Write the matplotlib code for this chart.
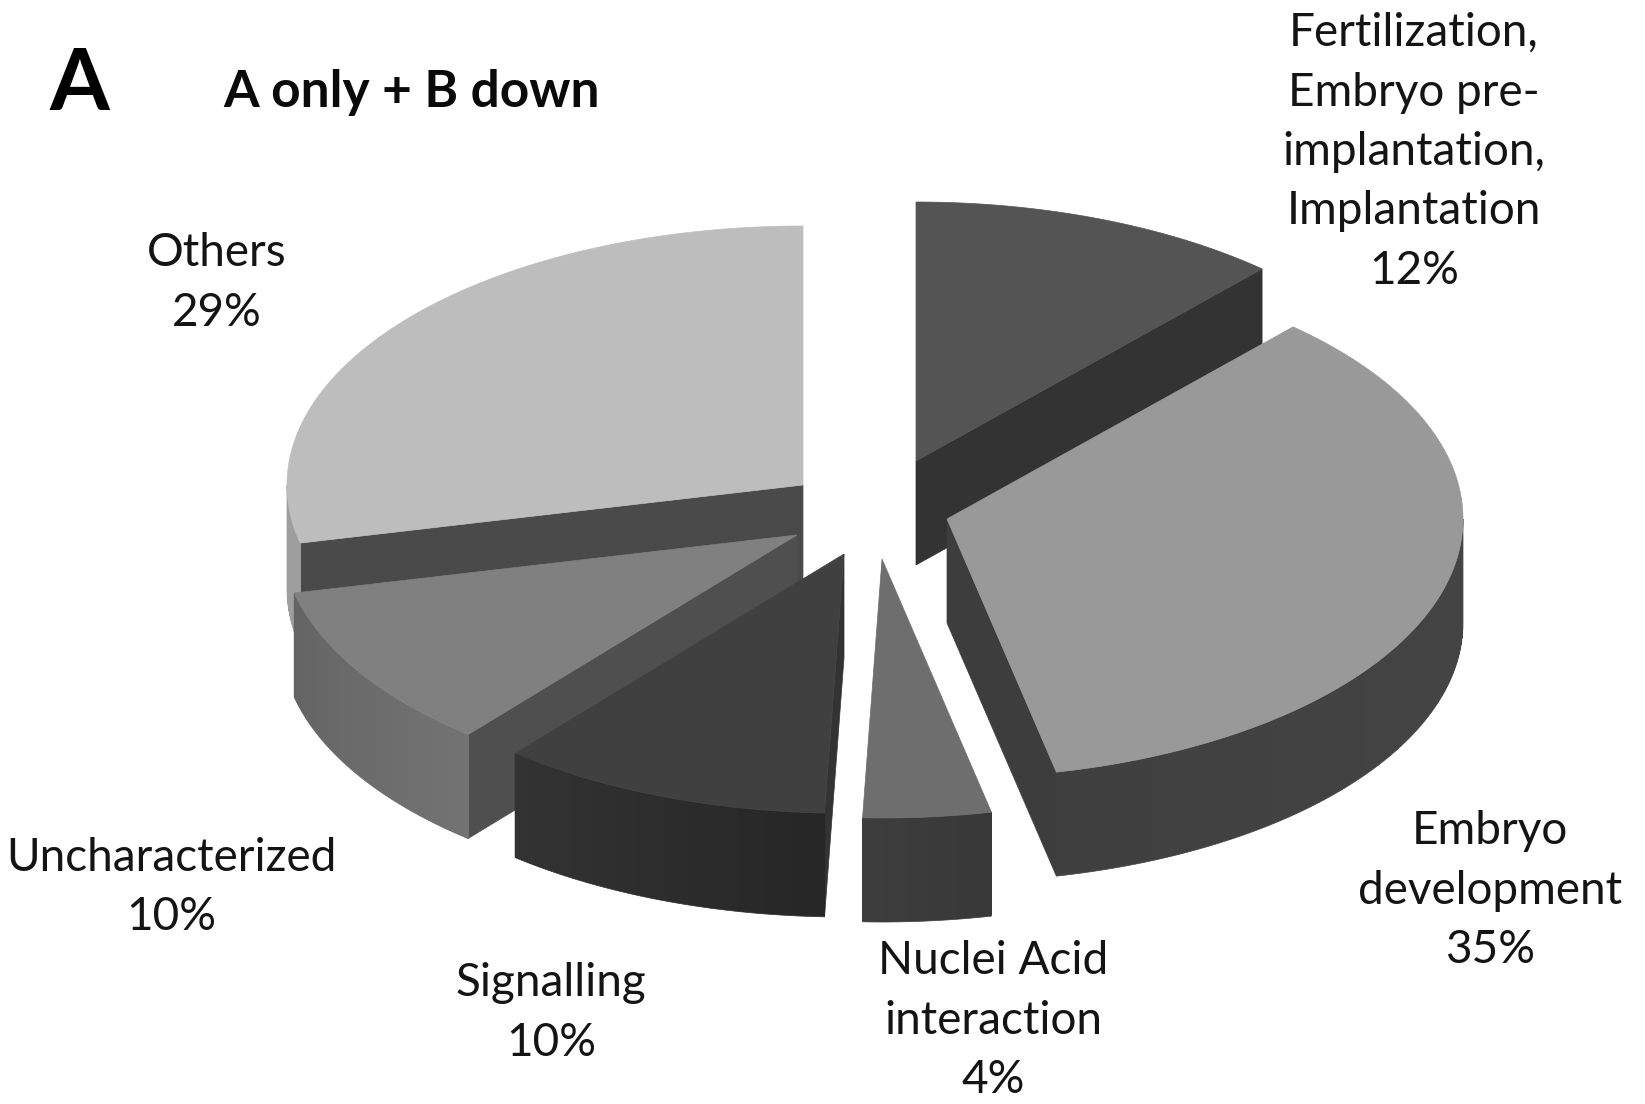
import numpy as np
import matplotlib
matplotlib.use("Agg")
import matplotlib.pyplot as plt
from matplotlib.collections import PolyCollection
from matplotlib.patches import Polygon

# values, clockwise from 12 o'clock
categories = ["Fertilization", "Embryo development", "Nuclei Acid", "Signalling", "Uncharacterized", "Others"]
shares = [11.7, 34.9, 4.0, 10.4, 10.4, 28.6]
label_lines = [
    ["Fertilization,", "Embryo pre-", "implantation,", "Implantation", "12%"],
    ["Embryo", "development", "35%"],
    ["Nuclei Acid", "interaction", "4%"],
    ["Signalling", "10%"],
    ["Uncharacterized", "10%"],
    ["Others", "29%"],
]

# layout, in image pixels
apex = [(916, 461), (947, 519), (882, 559), (844, 554), (797, 535), (803, 485)]
label_pos = [(1414, 33), (1490, 831), (993, 961), (551, 983), (171, 858), (217, 253)]
RX, RY, THICK = 516, 259, 104
LINE_H = 59.5

top_grey = [0.33, 0.60, 0.43, 0.25, 0.50, 0.74]
cut_grey = [0.20, 0.24, 0.22, 0.20, 0.31, 0.29]
wall_grey = [(0.20, 0.20), (0.27, 0.25), (0.22, 0.24), (0.15, 0.20), (0.45, 0.39), (0.62, 0.62)]

# back to front
draw_order = [5, 0, 4, 1, 3, 2]

plt.rcParams["font.family"] = ["Lato", "DejaVu Sans"]


def rim(center, t0, t1, n=120):
    t = np.linspace(t0, t1, n)
    return np.column_stack([center[0] + RX * np.sin(t), center[1] - RY * np.cos(t)])


def draw_slice(ax, center, t0, t1, top, cut, wall):
    c = np.array(center, dtype=float)
    down = np.array([0, THICK])

    # cut faces that look towards the viewer
    for t, visible in ((t0, np.sin(t0) < -1e-6), (t1, np.sin(t1) > 1e-6)):
        if visible:
            p = rim(c, t, t, 1)[0]
            ax.add_patch(Polygon([c, p, p + down, c + down], fc=str(cut), ec=str(cut), lw=0.5))

    # outer wall, only the part in front
    lo, hi = max(t0, np.pi / 2), min(t1, 1.5 * np.pi)
    if hi > lo:
        edge = rim(c, lo, hi)
        base = np.vstack([edge, edge[::-1] + down])
        mid = str(np.mean(wall))
        ax.add_patch(Polygon(base, fc=mid, ec=mid, lw=0.5))
        # shading sits a pixel inside the smooth outline
        inset = np.array([0, 1.5])
        strips = [[edge[i] + inset, edge[i + 1] + inset, edge[i + 1] + down - inset, edge[i] + down - inset]
                  for i in range(len(edge) - 1)]
        shade = np.linspace(wall[0], wall[1], len(strips))
        ax.add_collection(PolyCollection(strips, facecolors=[str(s) for s in shade],
                                         edgecolors="none", linewidths=0, antialiaseds=False))

    ax.add_patch(Polygon(np.vstack([c, rim(c, t0, t1)]), fc=str(top), ec=str(top), lw=0.5))


fig = plt.figure(figsize=(16.45, 11.04), dpi=100)
ax = fig.add_axes([0, 0, 1, 1])
ax.set_xlim(0, 1645)
ax.set_ylim(1104, 0)
ax.axis("off")

edges = np.cumsum([0] + shares) / sum(shares) * 2 * np.pi
for i in draw_order:
    draw_slice(ax, apex[i], edges[i], edges[i + 1], top_grey[i], cut_grey[i], wall_grey[i])

for lines, (x, y) in zip(label_lines, label_pos):
    for k, line in enumerate(lines):
        ax.text(x, y + k * LINE_H, line, ha="center", va="center", fontsize=33, color="#141414")

ax.text(79, 86, "A", ha="center", va="center", fontsize=62, fontweight="bold", color="black")
ax.text(223, 93, "A only + B down", ha="left", va="center", fontsize=37, fontweight="bold", color="#0a0a0a")

fig.savefig("out.png", dpi=100)
plt.close(fig)
